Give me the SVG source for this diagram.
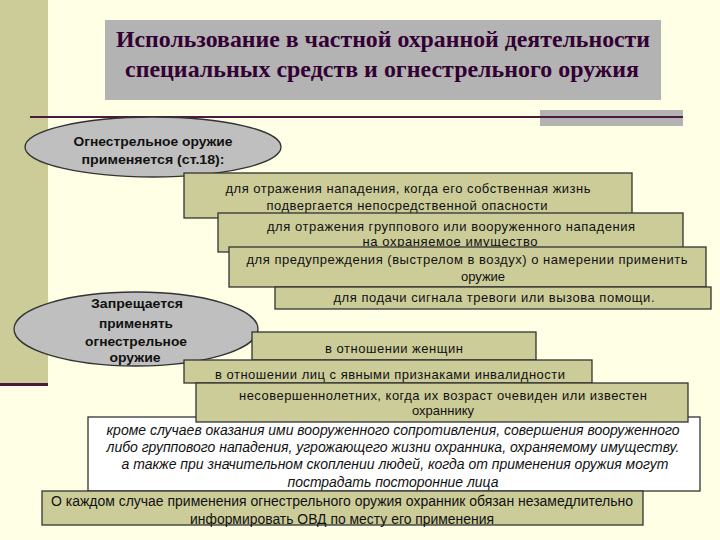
<svg xmlns="http://www.w3.org/2000/svg" width="720" height="540" viewBox="0 0 720 540">
<style>
.box{fill:#CCCC99;stroke:#333333;stroke-width:1.3}
.wbox{fill:#FFFFFF;stroke:#333333;stroke-width:1.3}
.ell{fill:#BFBFBF;stroke:#333333;stroke-width:1.3}
.t{font-family:"Liberation Sans",Arial,sans-serif;font-size:13px;fill:#111111}
.tb{font-family:"Liberation Sans",Arial,sans-serif;font-size:13px;font-weight:bold;fill:#111111}
.tn{font-family:"Liberation Sans Narrow","Liberation Sans",Arial,sans-serif;font-size:14px;fill:#111111}
.ti{font-family:"Liberation Sans Narrow","Liberation Sans",Arial,sans-serif;font-size:14px;font-style:italic;fill:#111111}
.title{font-family:"Liberation Serif","Times New Roman",serif;font-size:23px;font-weight:bold;fill:#330033}
</style>
<rect x="0" y="0" width="720" height="540" fill="#FFFFE6"/>
<g id="decor">
<rect x="0" y="0" width="48" height="384" fill="#CCCC99"/>
<rect x="0" y="383" width="48" height="3" fill="#4D1A3D"/>
<rect x="540" y="110" width="143" height="16" fill="#B3B3B3"/>
<rect x="30" y="116" width="653" height="2" fill="#4D1A3D"/>
</g>
<g id="title">
<rect x="105" y="20" width="556" height="80" fill="#B3B3B3"/>
<text class="title" x="383" y="47" text-anchor="middle" textLength="534" lengthAdjust="spacingAndGlyphs">Использование в частной охранной деятельности</text>
<text class="title" x="382" y="77" text-anchor="middle" textLength="514" lengthAdjust="spacingAndGlyphs">специальных средств и огнестрельного оружия</text>
</g>
<g id="ellipse1">
<ellipse class="ell" cx="153" cy="147" rx="128" ry="30"/>
<text class="tb" x="153" y="146" text-anchor="middle" textLength="159" lengthAdjust="spacingAndGlyphs">Огнестрельное оружие</text>
<text class="tb" x="153" y="164" text-anchor="middle" textLength="143" lengthAdjust="spacingAndGlyphs">применяется (ст.18):</text>
</g>
<g id="box1">
<rect class="box" x="184" y="173" width="448" height="45"/>
<text class="t" x="408" y="193" text-anchor="middle" textLength="365">для отражения нападения, когда его собственная жизнь</text>
<text class="t" x="407" y="210" text-anchor="middle" textLength="281">подвергается непосредственной опасности</text>
</g>
<g id="box2">
<rect class="box" x="218" y="213" width="465" height="39"/>
<text class="t" x="451" y="231" text-anchor="middle" textLength="368">для отражения группового или вооруженного нападения</text>
<text class="t" x="450" y="246" text-anchor="middle" textLength="175">на охраняемое имущество</text>
</g>
<g id="box3">
<rect class="box" x="229" y="247" width="477" height="40"/>
<text class="t" x="467" y="264" text-anchor="middle" textLength="441">для предупреждения (выстрелом в воздух) о намерении применить</text>
<text class="t" x="483" y="281" text-anchor="middle">оружие</text>
</g>
<g id="box4">
<rect class="box" x="275" y="287" width="436" height="22"/>
<text class="t" x="494" y="302" text-anchor="middle" textLength="321">для подачи сигнала тревоги или вызова помощи.</text>
</g>
<g id="ellipse2">
<ellipse class="ell" cx="136" cy="329" rx="122" ry="37"/>
<text class="tb" x="137" y="308" text-anchor="middle" textLength="92" lengthAdjust="spacingAndGlyphs">Запрещается</text>
<text class="tb" x="136" y="328" text-anchor="middle" textLength="74" lengthAdjust="spacingAndGlyphs">применять</text>
<text class="tb" x="136" y="346" text-anchor="middle" textLength="102" lengthAdjust="spacingAndGlyphs">огнестрельное</text>
<text class="tb" x="135" y="362" text-anchor="middle" textLength="51" lengthAdjust="spacingAndGlyphs">оружие</text>
</g>
<g id="box5">
<rect class="box" x="252" y="332" width="284" height="28"/>
<text class="t" x="394" y="353" text-anchor="middle" textLength="138">в отношении женщин</text>
</g>
<g id="box6">
<rect class="box" x="184" y="360" width="408" height="23"/>
<text class="t" x="390" y="379" text-anchor="middle" textLength="350">в отношении лиц с явными признаками инвалидности</text>
</g>
<g id="box8">
<rect class="wbox" x="88" y="417" width="612" height="74"/>
<text class="ti" x="393" y="435" text-anchor="middle" textLength="573" lengthAdjust="spacingAndGlyphs">кроме случаев оказания ими вооруженного сопротивления, совершения вооруженного</text>
<text class="ti" x="393" y="452" text-anchor="middle" textLength="573" lengthAdjust="spacingAndGlyphs">либо группового нападения, угрожающего жизни охранника, охраняемому имуществу.</text>
<text class="ti" x="395" y="469" text-anchor="middle" textLength="547" lengthAdjust="spacingAndGlyphs">а также при значительном скоплении людей, когда от применения оружия могут</text>
<text class="ti" x="393" y="487" text-anchor="middle" textLength="211" lengthAdjust="spacingAndGlyphs">пострадать посторонние лица</text>
</g>
<g id="box7">
<rect class="box" x="196" y="383" width="492" height="39"/>
<text class="t" x="443" y="400" text-anchor="middle" textLength="408">несовершеннолетних, когда их возраст очевиден или известен</text>
<text class="t" x="443" y="415" text-anchor="middle">охраннику</text>
</g>
<g id="box9">
<rect class="box" x="42" y="491" width="601" height="34"/>
<text class="tn" x="342" y="506" text-anchor="middle" textLength="582" lengthAdjust="spacingAndGlyphs">О каждом случае применения огнестрельного оружия охранник обязан незамедлительно</text>
<text class="tn" x="342" y="524" text-anchor="middle" textLength="304" lengthAdjust="spacingAndGlyphs">информировать ОВД по месту его применения</text>
</g>
<g id="connectors"></g>
</svg>
